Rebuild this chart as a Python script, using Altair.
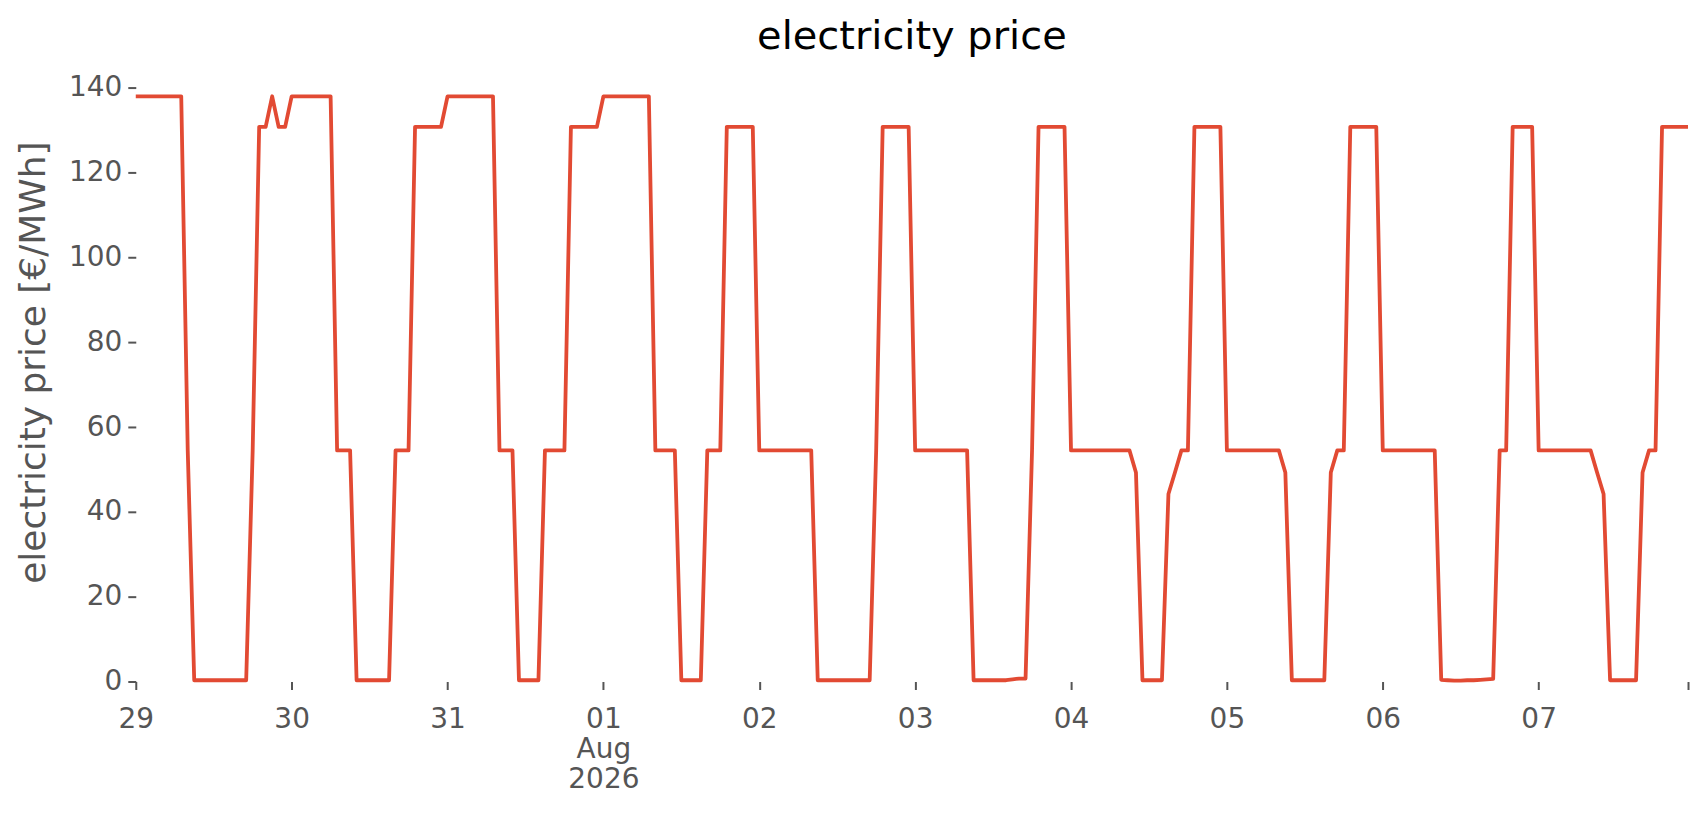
import altair as alt
import pandas as pd

# hourly electricity price values [€/MWh], one list per day (00:00 .. 23:00)
jul29 = [138.0, 138.0, 138.0, 138.0, 138.0, 138.0, 138.0, 138.0, 54.5, 0.3, 0.3, 0.3,
         0.3, 0.3, 0.3, 0.3, 0.3, 0.3, 54.5, 130.8, 130.8, 138.0, 130.8, 130.8]
jul30 = [138.0, 138.0, 138.0, 138.0, 138.0, 138.0, 138.0, 54.5, 54.5, 54.5, 0.3, 0.3,
         0.3, 0.3, 0.3, 0.3, 54.5, 54.5, 54.5, 130.8, 130.8, 130.8, 130.8, 130.8]
jul31 = [138.0, 138.0, 138.0, 138.0, 138.0, 138.0, 138.0, 138.0, 54.5, 54.5, 54.5, 0.3,
         0.3, 0.3, 0.3, 54.5, 54.5, 54.5, 54.5, 130.8, 130.8, 130.8, 130.8, 130.8]
aug01 = [138.0, 138.0, 138.0, 138.0, 138.0, 138.0, 138.0, 138.0, 54.5, 54.5, 54.5, 54.5,
         0.3, 0.3, 0.3, 0.3, 54.5, 54.5, 54.5, 130.8, 130.8, 130.8, 130.8, 130.8]
aug02 = [54.5, 54.5, 54.5, 54.5, 54.5, 54.5, 54.5, 54.5, 54.5, 0.3, 0.3, 0.3,
         0.3, 0.3, 0.3, 0.3, 0.3, 0.3, 54.5, 130.8, 130.8, 130.8, 130.8, 130.8]
aug03 = [54.5, 54.5, 54.5, 54.5, 54.5, 54.5, 54.5, 54.5, 54.5, 0.3, 0.3, 0.3,
         0.3, 0.3, 0.3, 0.5, 0.7, 0.7, 54.5, 130.8, 130.8, 130.8, 130.8, 130.8]
aug04 = [54.5, 54.5, 54.5, 54.5, 54.5, 54.5, 54.5, 54.5, 54.5, 54.5, 49.3, 0.3,
         0.3, 0.3, 0.3, 44.2, 49.3, 54.5, 54.5, 130.8, 130.8, 130.8, 130.8, 130.8]
aug05 = [54.5, 54.5, 54.5, 54.5, 54.5, 54.5, 54.5, 54.5, 54.5, 49.3, 0.3, 0.3,
         0.3, 0.3, 0.3, 0.3, 49.3, 54.5, 54.5, 130.8, 130.8, 130.8, 130.8, 130.8]
aug06 = [54.5, 54.5, 54.5, 54.5, 54.5, 54.5, 54.5, 54.5, 54.5, 0.4, 0.3, 0.2,
         0.2, 0.3, 0.3, 0.4, 0.5, 0.6, 54.5, 54.5, 130.8, 130.8, 130.8, 130.8]
aug07 = [54.5, 54.5, 54.5, 54.5, 54.5, 54.5, 54.5, 54.5, 54.5, 49.3, 44.2, 0.3,
         0.3, 0.3, 0.3, 0.3, 49.3, 54.5, 54.5, 130.8, 130.8, 130.8, 130.8, 130.8]

days = [jul29, jul30, jul31, aug01, aug02, aug03, aug04, aug05, aug06, aug07]
y_ticks = [0, 20, 40, 60, 80, 100, 120, 140]

prices = [v for d in days for v in d]
times = pd.date_range("2026-07-29 00:00", periods=len(prices), freq="h")
df = pd.DataFrame({"time": times.strftime("%Y-%m-%dT%H:%M:%S"), "price": prices})

def dt(month, date, hours=0):
    return alt.DateTime(year=2026, month=month, date=date, hours=hours)

tick_days = [("July", 29), ("July", 30), ("July", 31), ("August", 1), ("August", 2),
             ("August", 3), ("August", 4), ("August", 5), ("August", 6), ("August", 7)]
x_values = [dt(m, d) for m, d in tick_days] + [dt("August", 7, 23)]

label_expr = ("hours(datum.value) == 23 ? '' : (date(datum.value) == 1 ? "
              "[timeFormat(datum.value, '%d'), timeFormat(datum.value, '%b'), timeFormat(datum.value, '%Y')]"
              " : timeFormat(datum.value, '%d'))")

FONT = "DejaVu Sans"
GREY = "#555555"

chart = alt.Chart(df).mark_line(color="#E24A33", strokeWidth=3.8, strokeJoin="round").encode(
    x=alt.X("time:T",
            scale=alt.Scale(domain=[dt("July", 29), dt("August", 7, 23)], nice=False),
            axis=alt.Axis(values=x_values, labelExpr=label_expr, title=None,
                          tickSize=8, tickWidth=2, tickColor=GREY,
                          labelColor=GREY, labelFontSize=28, labelFont=FONT,
                          labelPadding=16, labelLineHeight=30,
                          domain=False, grid=False, labelOverlap=False,
                          labelFlush=False, labelBound=False)),
    y=alt.Y("price:Q",
            scale=alt.Scale(domain=[0, 145], nice=False, zero=False),
            axis=alt.Axis(values=y_ticks, title="electricity price [€/MWh]",
                          titleFont=FONT, titleFontSize=36, titleColor=GREY,
                          titleFontWeight="normal", titleAngle=270,
                          titleX=-83, titleY=296, titleBaseline="bottom", titleAlign="center",
                          tickSize=8, tickWidth=2, tickColor=GREY,
                          labelColor=GREY, labelFontSize=28, labelFont=FONT,
                          labelPadding=6, domain=False, grid=False))
).properties(
    width=1555, height=616,
    title=alt.TitleParams("electricity price", font=FONT, fontSize=40, fontWeight="normal",
                          color="black", baseline="alphabetic", offset=18, anchor="middle",
                          frame="group", dy=40),
    autosize=alt.AutoSizeParams(type="none"),
    padding={"left": 128, "top": 58, "right": 10, "bottom": 120},
).configure(background="white").configure_view(stroke=None)

chart.save("out.html", embed_options={"renderer": "svg", "actions": False})
